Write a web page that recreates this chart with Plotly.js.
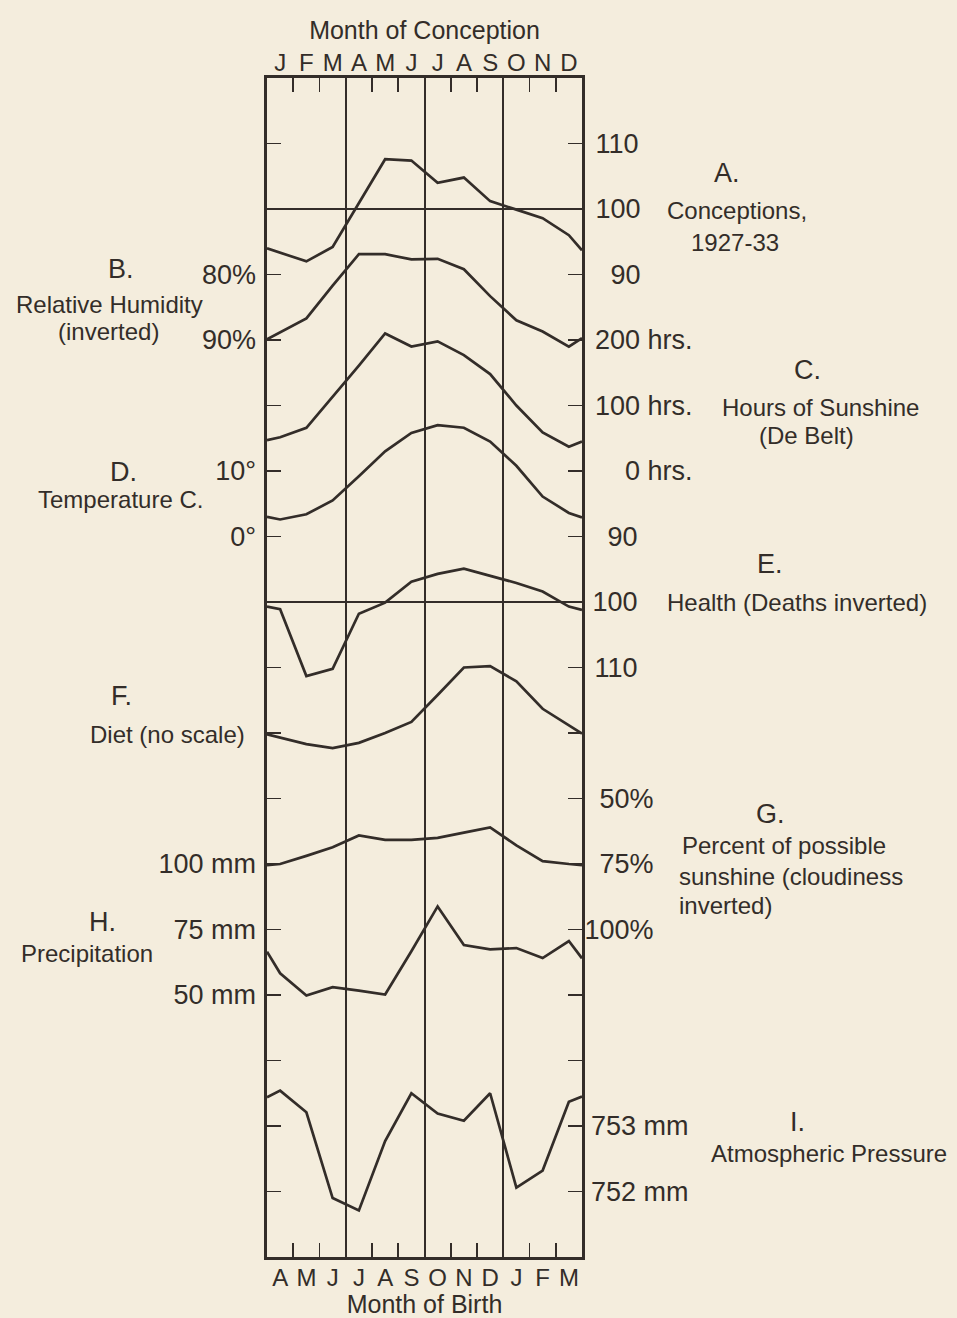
<!DOCTYPE html>
<html>
<head>
<meta charset="utf-8">
<script src="https://cdn.plot.ly/plotly-3.0.1.min.js"></script>
<style>
  html, body { margin: 0; padding: 0; background: #f4eddd; }
  #chart { width: 957px; height: 1318px; }
</style>
</head>
<body>
<div id="chart"></div>
<script>
// Month labels along the top (conception) and bottom (birth) of the panel
const conceptionMonths = ['J', 'F', 'M', 'A', 'M', 'J', 'J', 'A', 'S', 'O', 'N', 'D'];
const birthMonths = ['A', 'M', 'J', 'J', 'A', 'S', 'O', 'N', 'D', 'J', 'F', 'M'];

// x positions in months: left edge, the twelve month midpoints, right edge
const monthPos = [0, 0.5, 1.5, 2.5, 3.5, 4.5, 5.5, 6.5, 7.5, 8.5, 9.5, 10.5, 11.5, 12];

// A. Conceptions, 1927-33 (index, 100 = mean)
const conceptions = [94.0, 93.3, 92.0, 94.2, 100.9, 107.6, 107.4, 104.0, 104.8, 101.2, 99.9, 98.6, 96.0, 93.7];
// B. Relative humidity, % (plotted inverted)
const humidity = [89.9, 88.8, 86.7, 81.7, 76.9, 76.9, 77.7, 77.6, 79.2, 83.3, 87.0, 88.7, 91.0, 89.7];
// C. Hours of sunshine, De Bilt
const sunshineHours = [47, 51.5, 66, 113, 161, 210, 190, 198, 177, 148, 100, 59, 37, 45];
// D. Temperature, degrees C
const temperature = [3.0, 2.6, 3.4, 5.5, 9.2, 13.0, 15.8, 17.0, 16.6, 14.5, 10.8, 6.1, 3.6, 2.9];
// E. Deaths index (plotted inverted as health)
const deaths = [100.7, 101.1, 111.3, 110.2, 101.8, 100.1, 96.9, 95.7, 94.9, 96.0, 97.1, 98.4, 100.7, 101.2];
// F. Diet, relative index without a scale
const diet = [99.8, 99.3, 98.3, 97.7, 98.5, 100.0, 101.7, 105.8, 110.0, 110.2, 107.9, 103.7, 101.1, 99.9];
// G. Percent of possible sunshine
const sunshinePct = [75.4, 75.0, 71.9, 68.6, 64.1, 65.8, 65.8, 65.0, 63.0, 61.0, 67.9, 73.9, 75.0, 75.4];
// H. Precipitation, mm
const precipitation = [66.5, 58.3, 49.8, 53.0, 51.7, 50.2, 66.7, 83.8, 69.1, 67.4, 67.9, 64.1, 70.6, 64.0];
// I. Atmospheric pressure, mm
const pressure = [753.44, 753.54, 753.21, 751.90, 751.71, 752.77, 753.50, 753.19, 753.08, 753.50, 752.06, 752.32, 753.37, 753.45];

// Scale labels beside the panel
const conceptionTicks = [110, 100, 90];
const conceptionTickText = ['110', '100', '\u00a0\u00a090'];
const humidityTicks = [80, 90];
const humidityTickText = ['80%', '90%'];
const sunshineHourTicks = [200, 100, 0];
const sunshineHourTickText = ['200 hrs.', '100 hrs.', '0 hrs.'];
const temperatureTicks = [10, 0];
const temperatureTickText = ['10°', '0°'];
const deathTicks = [90, 100, 110];
const deathTickText = ['90', '100', '110'];
const sunshinePctTicks = [50, 75, 100];
const sunshinePctTickText = ['50%', '75%', '100%'];
const precipitationTicks = [100, 75, 50];
const precipitationTickText = ['100 mm', '75 mm', '50 mm'];
const pressureTicks = [753, 752];
const pressureTickText = ['753 mm', '752 mm'];

// Month divisions of the panel
const monthTicks = [1, 2, 4, 5, 7, 8, 10, 11];
const quarterLines = [3, 6, 9];

// ---- page geometry ----
const INK = '#332d29';
const BG = '#f4eddd';
const FONT = 'Liberation Sans, Arial, Helvetica, sans-serif';
const L = 267, T = 78, PW = 690, PH = 1179;
const panelWidth = 315;
const xDom = [0, panelWidth / PW];

const tickFont = { family: FONT, size: 27, color: INK };
const monthFont = { family: FONT, size: 24, color: INK };
const titleFont = { family: FONT, size: 25, color: INK };
const noteFont = { family: FONT, size: 24, color: INK };
const letterFont = { family: FONT, size: 27, color: INK };

const monthMid = monthPos.slice(1, 13);

// The conceptions scale is the base axis of the panel: one band = 10 index points,
// so the frame carries a tick every 10 points from 110 down to -50.
const conceptionRange = [-60, 120];
const frameTicks = [];
const frameText = [];
for (let v = 110; v >= -50; v -= 10) {
  frameTicks.push(v);
  const k = conceptionTicks.indexOf(v);
  frameText.push(k >= 0 ? conceptionTickText[k] : '');
}

function seriesAxis(range, tickvals, ticktext, place) {
  const ax = {
    overlaying: 'y', range: range, showgrid: false, zeroline: false, showline: false,
    ticks: '', fixedrange: true, tickmode: 'array',
    tickvals: tickvals || [], ticktext: ticktext || [],
    showticklabels: !!tickvals, tickfont: tickFont, side: 'left'
  };
  if (place === 'left') {
    ax.anchor = 'x';
    ax.ticklabelstandoff = 10;
  } else if (typeof place === 'number') {
    // labels right-aligned at the given page x
    ax.anchor = 'free';
    ax.position = (place + 0.5 - L) / PW;
  }
  return ax;
}

const seriesList = [
  { y: conceptions, xaxis: 'x', yaxis: 'y' },
  { y: humidity, xaxis: 'x2', yaxis: 'y2' },
  { y: sunshineHours, xaxis: 'x3', yaxis: 'y3' },
  { y: temperature, xaxis: 'x4', yaxis: 'y4' },
  { y: deaths, xaxis: 'x', yaxis: 'y5' },
  { y: diet, xaxis: 'x', yaxis: 'y6' },
  { y: sunshinePct, xaxis: 'x', yaxis: 'y7' },
  { y: precipitation, xaxis: 'x', yaxis: 'y8' },
  { y: pressure, xaxis: 'x', yaxis: 'y9' }
];

const traces = seriesList.map(s => ({
  type: 'scatter', mode: 'lines', x: monthPos, y: s.y,
  xaxis: s.xaxis, yaxis: s.yaxis,
  line: { color: INK, width: 2.7 },
  hoverinfo: 'skip', showlegend: false
}));

const px2x = p => (p - L) / PW;
const py2y = p => 1 - (p - T) / PH;
function note(text, x, y, font, extra) {
  return Object.assign({
    text: text, xref: 'paper', yref: 'paper', x: px2x(x), y: py2y(y),
    showarrow: false, xanchor: 'center', yanchor: 'middle', font: font || noteFont
  }, extra || {});
}

const annotations = [
  note('A.', 727, 173, letterFont),
  note('Conceptions,', 737, 211),
  note('1927-33', 735, 243),
  note('B.', 121, 269, letterFont),
  note('Relative Humidity', 109, 304),
  note('(inverted)', 108, 331),
  note('C.', 807, 370, letterFont),
  note('Hours of Sunshine', 820, 407),
  note('(De Belt)', 806, 436),
  note('D.', 123, 472, letterFont),
  note('Temperature C.', 120, 499),
  note('E.', 770, 564, letterFont),
  note('Health (Deaths inverted)', 797, 602),
  note('F.', 121, 696, letterFont),
  note('Diet (no scale)', 167, 734),
  note('G.', 770, 814, letterFont),
  note('Percent of possible', 680, 845, noteFont, { xanchor: 'left' }),
  note('sunshine (cloudiness', 677, 876, noteFont, { xanchor: 'left' }),
  note('inverted)', 677, 905, noteFont, { xanchor: 'left' }),
  note('H.', 102, 922, letterFont),
  note('Precipitation', 87, 953),
  note('I.', 797, 1122, letterFont),
  note('Atmospheric Pressure', 829, 1153)
];

const monthAxis = {
  overlaying: 'x', range: [0, 12], fixedrange: true, domain: xDom,
  showline: false, showgrid: false, zeroline: false
};

const layout = {
  width: 957, height: 1318,
  margin: { l: L, r: 957 - L - PW, t: T, b: 1318 - T - PH, pad: 0 },
  paper_bgcolor: BG, plot_bgcolor: 'rgba(0,0,0,0)',
  showlegend: false,
  xaxis: {
    domain: xDom, range: [0, 12], fixedrange: true,
    tickmode: 'array', tickvals: monthTicks, ticks: 'inside', ticklen: 14,
    tickwidth: 1.6, tickcolor: INK, mirror: 'ticks',
    showline: true, linewidth: 3, linecolor: INK,
    showticklabels: false, showgrid: false, zeroline: false
  },
  xaxis2: Object.assign({}, monthAxis, {
    side: 'bottom', tickmode: 'array', tickvals: monthMid, ticktext: birthMonths, ticks: '',
    ticklabelstandoff: 4, tickfont: monthFont,
    title: { text: 'Month of Birth', font: titleFont, standoff: 2 }
  }),
  xaxis3: Object.assign({}, monthAxis, {
    side: 'top', tickmode: 'array', tickvals: monthMid, ticktext: conceptionMonths, ticks: '',
    ticklabelstandoff: 1, tickfont: monthFont,
    title: { text: 'Month of Conception', font: titleFont, standoff: 2 }
  }),
  xaxis4: Object.assign({}, monthAxis, {
    tickmode: 'array', tickvals: quarterLines, ticks: '', showticklabels: false,
    showgrid: true, gridcolor: INK, gridwidth: 2
  }),
  yaxis: {
    domain: [0, 1], range: conceptionRange, fixedrange: true, side: 'right',
    tickmode: 'array', tickvals: frameTicks, ticktext: frameText,
    ticks: 'inside', ticklen: 14, tickwidth: 1.6, tickcolor: INK, mirror: 'ticks',
    showline: true, linewidth: 3, linecolor: INK,
    tickfont: tickFont, ticklabelstandoff: 5,
    showgrid: false, zeroline: false
  },
  yaxis2: seriesAxis([230, 50], humidityTicks, humidityTickText, 'left'),
  yaxis3: seriesAxis([-1200, 600], sunshineHourTicks, sunshineHourTickText, 692),
  yaxis4: seriesAxis([-110, 70], temperatureTicks, temperatureTickText, 'left'),
  yaxis5: seriesAxis([200, 20], deathTicks, deathTickText, 637),
  yaxis6: seriesAxis([20, 200], null, null, 'left'),
  yaxis7: seriesAxis([225, -225], sunshinePctTicks, sunshinePctTickText, 653),
  yaxis8: seriesAxis([-50, 400], precipitationTicks, precipitationTickText, 'left'),
  yaxis9: seriesAxis([751, 769], pressureTicks, pressureTickText, 688),
  shapes: [
    { type: 'line', xref: 'x domain', x0: 0, x1: 1, yref: 'y', y0: 100, y1: 100,
      line: { color: INK, width: 2.2 } },
    { type: 'line', xref: 'x domain', x0: 0, x1: 1, yref: 'y5', y0: 100, y1: 100,
      line: { color: INK, width: 2.2 } }
  ],
  annotations: annotations
};

Plotly.newPlot('chart', traces, layout, { staticPlot: true, displayModeBar: false });
</script>
</body>
</html>
